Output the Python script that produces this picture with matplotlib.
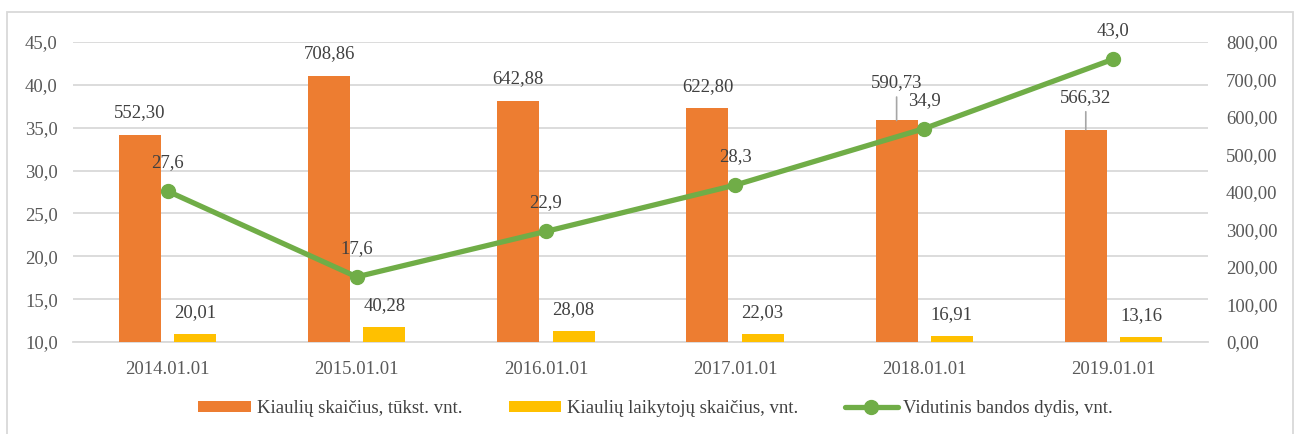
import numpy as np
import matplotlib.pyplot as plt
from matplotlib.patches import Rectangle

years = ['2014.01.01', '2015.01.01', '2016.01.01', '2017.01.01', '2018.01.01', '2019.01.01']
pigs = [552.30, 708.86, 642.88, 622.80, 590.73, 566.32]      # tūkst. vnt.
keepers = [20.01, 40.28, 28.08, 22.03, 16.91, 13.16]         # vnt.
herd = [27.6, 17.6, 22.9, 28.3, 34.9, 43.0]                  # vnt.

def lt(v, nd):
    return f'{v:.{nd}f}'.replace('.', ',')

FS = 13.5
plt.rcParams['font.family'] = ['Liberation Serif', 'DejaVu Serif']
plt.rcParams['font.size'] = FS

ORANGE = '#ED7D31'
YELLOW = '#FFC000'
GREEN = '#70AD47'
GRID = '#D9D9D9'
TICK = '#595959'
LBL = '#404040'

fig = plt.figure(figsize=(13.01, 4.34), dpi=100)
rect = [0.0561, 0.212, 0.8724, 0.6912]
ax1 = fig.add_axes(rect)
ax2 = ax1.twinx()
ax3 = ax1.twinx()

x = np.arange(len(years))
off, w = 0.146, 0.222

# left axis: grid + ticks
ax1.set_xlim(-0.5, 5.5)
ax1.set_ylim(10, 45)
ax1.set_yticks(np.arange(10, 46, 5))
ax1.set_yticklabels([lt(v, 1) for v in np.arange(10, 46, 5)])
ax1.grid(axis='y', color=GRID, lw=1.3)
ax1.set_axisbelow(True)
ax1.set_xticks(x)
ax1.set_xticklabels(years)
ax1.tick_params(length=0, colors=TICK, labelsize=FS)
ax1.tick_params(axis='x', pad=14)
ax1.tick_params(axis='y', pad=11)
for s in ax1.spines.values():
    s.set_visible(False)
ax1.spines['bottom'].set_visible(True)
ax1.spines['bottom'].set_color(GRID)
ax1.spines['bottom'].set_linewidth(1.3)

# right axis: bars
ax2.set_ylim(0, 800)
ax2.set_yticks(np.arange(0, 801, 100))
ax2.set_yticklabels([lt(v, 2) for v in np.arange(0, 801, 100)])
ax2.tick_params(length=0, colors=TICK, labelsize=FS, pad=13)
for s in ax2.spines.values():
    s.set_visible(False)
b1 = ax2.bar(x - off, pigs, w, color=ORANGE, label='Kiaulių skaičius, tūkst. vnt.')
b2 = ax2.bar(x + off, keepers, w, color=YELLOW, label='Kiaulių laikytojų skaičius, vnt.')

pig_off = [16, 16, 16, 16, 27, 23]
for i, v in enumerate(pigs):
    if pig_off[i] > 16:
        ax2.annotate(lt(v, 2), (x[i] - off, v), xytext=(0, pig_off[i]), textcoords='offset points',
                     ha='center', va='center', color=LBL, fontsize=FS,
                     arrowprops=dict(arrowstyle='-', color='#A6A6A6', lw=1.2,
                                     relpos=(0.5, 0), shrinkA=2, shrinkB=0))
    else:
        ax2.annotate(lt(v, 2), (x[i] - off, v), xytext=(0, pig_off[i]), textcoords='offset points',
                     ha='center', va='center', color=LBL, fontsize=FS)
for i, v in enumerate(keepers):
    ax2.annotate(lt(v, 2), (x[i] + off, v), xytext=(0, 15.5), textcoords='offset points',
                 ha='center', va='center', color=LBL, fontsize=FS)

# line on top
ax3.set_ylim(10, 45)
ax3.axis('off')
ln, = ax3.plot(x, herd, color=GREEN, lw=3.8, marker='o', ms=10,
               solid_capstyle='round', label='Vidutinis bandos dydis, vnt.')
for i, v in enumerate(herd):
    ax3.annotate(lt(v, 1), (x[i], v), xytext=(0, 20.5), textcoords='offset points',
                 ha='center', va='center', color=LBL, fontsize=FS)

fig.legend(handles=[b1, b2, ln], loc='center', bbox_to_anchor=(0.504, 0.058), ncol=3,
           frameon=False, fontsize=FS, labelcolor=LBL, handlelength=2.8, handleheight=0.55,
           handletextpad=0.3, columnspacing=2.5)

fig.patches.append(Rectangle((7 / 1301, -0.01), 1286 / 1301, 1 - 12 / 434 + 0.01,
                             transform=fig.transFigure, fill=False, edgecolor=GRID, lw=1.3))

fig.savefig('out.png', dpi=100)
